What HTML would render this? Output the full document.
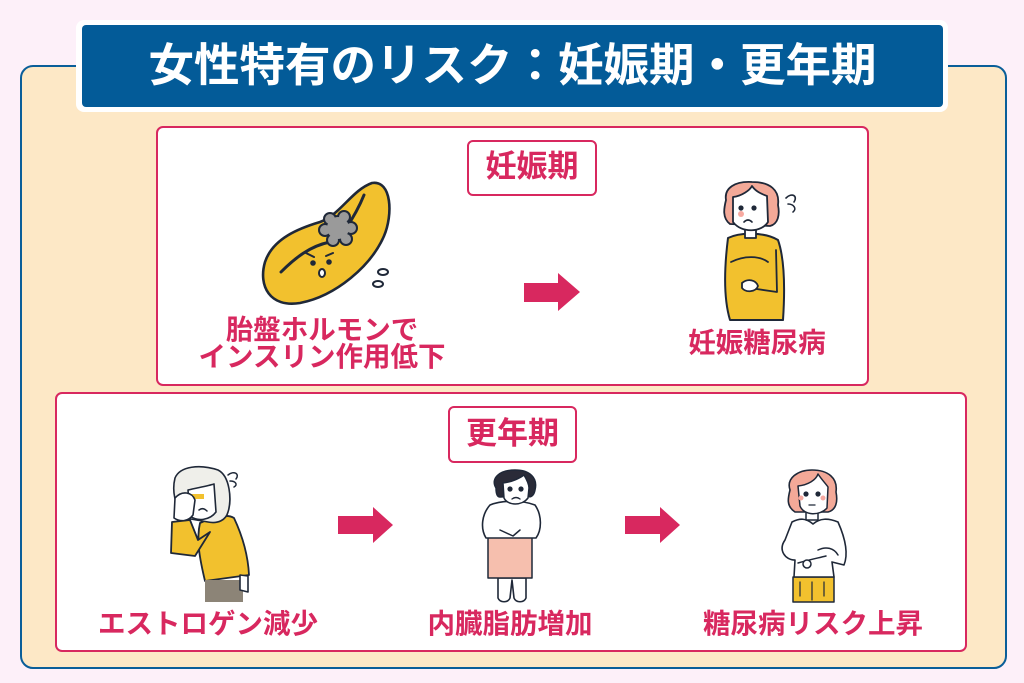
<!DOCTYPE html>
<html><head><meta charset="utf-8">
<style>
*{margin:0;padding:0;box-sizing:border-box}
body{width:1024px;height:683px;background:#fdf0f9;position:relative;overflow:hidden;font-family:"Liberation Sans","Noto Sans CJK JP",sans-serif;font-weight:700}
.abs{position:absolute}
#outer{left:20px;top:65px;width:987px;height:604px;background:#fde8c6;border:2px solid #0a5e99;border-radius:13px}
#titlew{left:76px;top:20px;width:872px;height:92px;background:#fff;border-radius:8px}
#titleb{left:82px;top:25px;width:861px;height:82px;background:#035b98;border-radius:4px}
#title{left:82px;top:25px;width:861px;height:82px;color:#fff;font-size:45.5px;line-height:82px;text-align:center;letter-spacing:0px}
.wbox{background:#fff;border:2.5px solid #d8285f;border-radius:7px}
.tag{background:#fff;border:2.5px solid #d8285f;border-radius:6px;color:#d8285f;font-size:31px;text-align:center}
.lbl{color:#d8285f;font-size:27.5px;text-align:center;white-space:nowrap;line-height:28px}
</style></head>
<body>
<div id="outer" class="abs"></div>
<div id="titlew" class="abs"></div>
<div id="titleb" class="abs"></div>
<div id="title" class="abs">女性特有のリスク：妊娠期・更年期</div>

<div class="abs wbox" style="left:156px;top:126px;width:713px;height:260px"></div>
<div class="abs wbox" style="left:55px;top:392px;width:912px;height:260px"></div>

<div class="abs tag" style="left:467px;top:140px;width:130px;height:56px;line-height:50px">妊娠期</div>
<div class="abs tag" style="left:448px;top:406px;width:129px;height:57px;line-height:52px">更年期</div>

<div class="abs lbl" style="left:172px;top:316px;width:300px">胎盤ホルモンで</div>
<div class="abs lbl" style="left:172px;top:343px;width:300px">インスリン作用低下</div>
<div class="abs lbl" style="left:657px;top:329px;width:200px">妊娠糖尿病</div>
<div class="abs lbl" style="left:58px;top:610px;width:300px">エストロゲン減少</div>
<div class="abs lbl" style="left:360px;top:610px;width:300px">内臓脂肪増加</div>
<div class="abs lbl" style="left:663px;top:610px;width:300px">糖尿病リスク上昇</div>

<svg class="abs" style="left:0;top:0" width="1024" height="683" viewBox="0 0 1024 683">
<g fill="#d8285f">
<polygon points="524,283 558,283 558,273 580,292 558,311 558,302 524,302"/>
<polygon points="338,516 373,516 373,507 393,525 373,543 373,534 338,534"/>
<polygon points="625,516 660,516 660,507 680,525 660,543 660,534 625,534"/>
</g>
<g stroke="#1f2838" stroke-width="2.6" stroke-linejoin="round" stroke-linecap="round">
<!-- pancreas -->
<path d="M372,183 C392,180 393,215 384,236 C371,266 336,296 300,303 C270,308 258,286 265,262 C273,238 300,228 320,222 C340,215 352,190 372,183 Z" fill="#f2c12e"/>
<path d="M281,272 C295,258 310,246 330,242 M345,230 C355,215 360,205 364,195" fill="none" stroke-width="3"/>
<g fill="#9a9a9a" stroke-width="2">
<circle cx="338" cy="228" r="12"/>
<circle cx="330" cy="219" r="6"/><circle cx="344" cy="217" r="6"/><circle cx="351" cy="228" r="6"/><circle cx="346" cy="239" r="6"/><circle cx="333" cy="240" r="6"/><circle cx="325" cy="230" r="6"/>
</g>
<circle cx="338" cy="228" r="11" fill="#9a9a9a" stroke="none"/>
<path d="M306,253 L314,257 M326,256 L333,253" fill="none" stroke-width="2"/>
<circle cx="313" cy="263" r="1.5" fill="#1f2838"/><circle cx="329" cy="262" r="1.5" fill="#1f2838"/>
<ellipse cx="322" cy="273" rx="3" ry="4" fill="#fff" stroke-width="2"/>
<ellipse cx="383" cy="272" rx="5" ry="3" fill="#fff" stroke-width="2"/>
<ellipse cx="378" cy="284" rx="5" ry="3" fill="#fff" stroke-width="2"/>

<!-- pregnant woman -->
<path d="M728,238 C740,232 765,232 778,240 C785,260 785,290 783,320 L730,320 C724,300 724,270 728,238 Z" fill="#f2c12e" stroke-width="2"/>
<path d="M731,262 C745,255 760,256 768,262 M776,250 L777,292 L750,288" fill="none" stroke-width="1.8"/>
<path d="M742,283 C748,278 756,280 758,286 C756,292 746,293 742,288 Z" fill="#fff" stroke-width="1.8"/>
<rect x="745" y="228" width="11" height="10" fill="#fff" stroke-width="1.8"/>
<path d="M726,200 C724,188 735,181 752,182 C770,182 780,190 778,205 C780,215 778,224 770,226 L730,224 C722,218 724,208 726,200 Z" fill="#f3a998" stroke-width="1.8"/>
<path d="M733,197 C742,196 750,190 752,186 C756,192 762,194 767,196 L768,222 C762,232 742,234 733,222 Z" fill="#fff" stroke-width="1.8"/>
<circle cx="741" cy="208" r="1.3" fill="#1f2838"/><circle cx="754" cy="208" r="1.3" fill="#1f2838"/>
<circle cx="741" cy="214" r="3" fill="#f7a9a0" stroke="none"/>
<path d="M744,222 Q748,218 752,222" fill="none" stroke-width="1.6"/>
<path d="M786,198 C792,192 798,196 794,202 M788,204 C794,204 797,209 793,212" fill="none" stroke-width="1.6"/>

<!-- older woman -->
<path d="M200,523 C215,516 228,514 234,518 C242,535 248,555 249,575 L205,581 C200,560 196,540 200,523 Z" fill="#f2c12e" stroke-width="1.8"/>
<path d="M172,522 L190,520 L198,540 L210,532 L195,556 L171,553 Z" fill="#f2c12e" stroke-width="1.8"/>
<rect x="205" y="580" width="38" height="22" fill="#8c8477" stroke="none"/>
<path d="M240,575 L248,576 L248,592 L240,590 Z" fill="#fff" stroke-width="1.6"/>
<path d="M175,478 C180,466 200,464 218,470 C230,476 232,500 228,512 C226,520 218,524 208,522 L185,518 C174,505 172,490 175,478 Z" fill="#efefea" stroke-width="1.6"/>
<path d="M188,490 C196,488 208,486 214,484 L216,512 C210,520 198,522 190,516 Z" fill="#fff" stroke-width="1.6"/>
<rect x="190" y="494" width="14" height="5" fill="#f2c12e" stroke="none"/>
<path d="M175,498 C182,490 192,492 195,500 L193,515 C188,522 180,522 174,518 Z" fill="#fff" stroke-width="1.6"/>
<path d="M199,510 Q203,507 207,511" fill="none" stroke-width="1.5"/>
<path d="M228,475 C234,470 240,474 236,479 M230,481 C236,481 238,485 234,487" fill="none" stroke-width="1.5"/>

<!-- middle woman -->
<path d="M498,578 L498,598 C500,603 508,603 510,598 L512,580 L514,598 C516,603 524,603 526,598 L526,578 Z" fill="#fff" stroke-width="1.6"/>
<path d="M488,537 L532,537 L532,578 L488,578 Z" fill="#f6bfae" stroke-width="1.5"/>
<path d="M490,505 C502,500 522,500 535,505 C542,515 542,530 536,538 L486,538 C480,528 482,514 490,505 Z" fill="#fff" stroke-width="1.6"/>
<path d="M500,530 L513,536 L520,530" fill="none" stroke-width="1.5"/>
<path d="M496,488 C490,478 500,470 515,470 C530,470 538,478 535,490 C534,496 530,498 528,496 L500,497 C497,497 496,493 496,488 Z" fill="#2a2b38" stroke-width="1.5"/>
<path d="M503,483 C512,482 520,478 524,475 C527,480 529,484 529,488 L528,498 C522,506 508,506 504,498 Z" fill="#fff" stroke-width="1.5"/>
<circle cx="510" cy="489" r="1.3" fill="#1f2838"/><circle cx="521" cy="489" r="1.3" fill="#1f2838"/>
<path d="M512,499 Q516,496 520,499" fill="none" stroke-width="1.4"/>

<!-- right woman -->
<rect x="793" y="577" width="41" height="25" fill="#f2c12e" stroke-width="1.5"/>
<path d="M800,582 L800,596 M812,582 L812,600 M824,582 L824,596" fill="none" stroke-width="1.2"/>
<path d="M792,522 C800,518 806,518 813,524 C820,518 828,518 838,522 C846,540 848,555 844,565 L832,562 L834,577 L794,577 L795,560 C785,560 778,550 785,540 Z" fill="#fff" stroke-width="1.6"/>
<path d="M798,563 C808,560 818,558 826,556 M818,550 C826,546 834,548 838,555" fill="none" stroke-width="1.5"/>
<circle cx="807" cy="564" r="4" fill="#fff" stroke-width="1.5"/>
<rect x="806" y="510" width="12" height="10" fill="#fff" stroke-width="1.5"/>
<path d="M790,490 C786,478 798,470 812,470 C828,470 838,478 836,492 C838,502 836,510 828,512 L795,512 C786,506 788,498 790,490 Z" fill="#f3a998" stroke-width="1.6"/>
<path d="M798,486 C808,485 816,480 818,474 C822,480 826,484 828,487 L827,508 C820,516 804,516 800,506 Z" fill="#fff" stroke-width="1.5"/>
<circle cx="806" cy="494" r="1.3" fill="#1f2838"/><circle cx="818" cy="494" r="1.3" fill="#1f2838"/>
<circle cx="801" cy="498" r="2.5" fill="#f7a9a0" stroke="none"/><circle cx="823" cy="498" r="2.5" fill="#f7a9a0" stroke="none"/>
<path d="M809,505 L815,505" fill="none" stroke-width="1.3"/>
</g>
</svg>
</body></html>
